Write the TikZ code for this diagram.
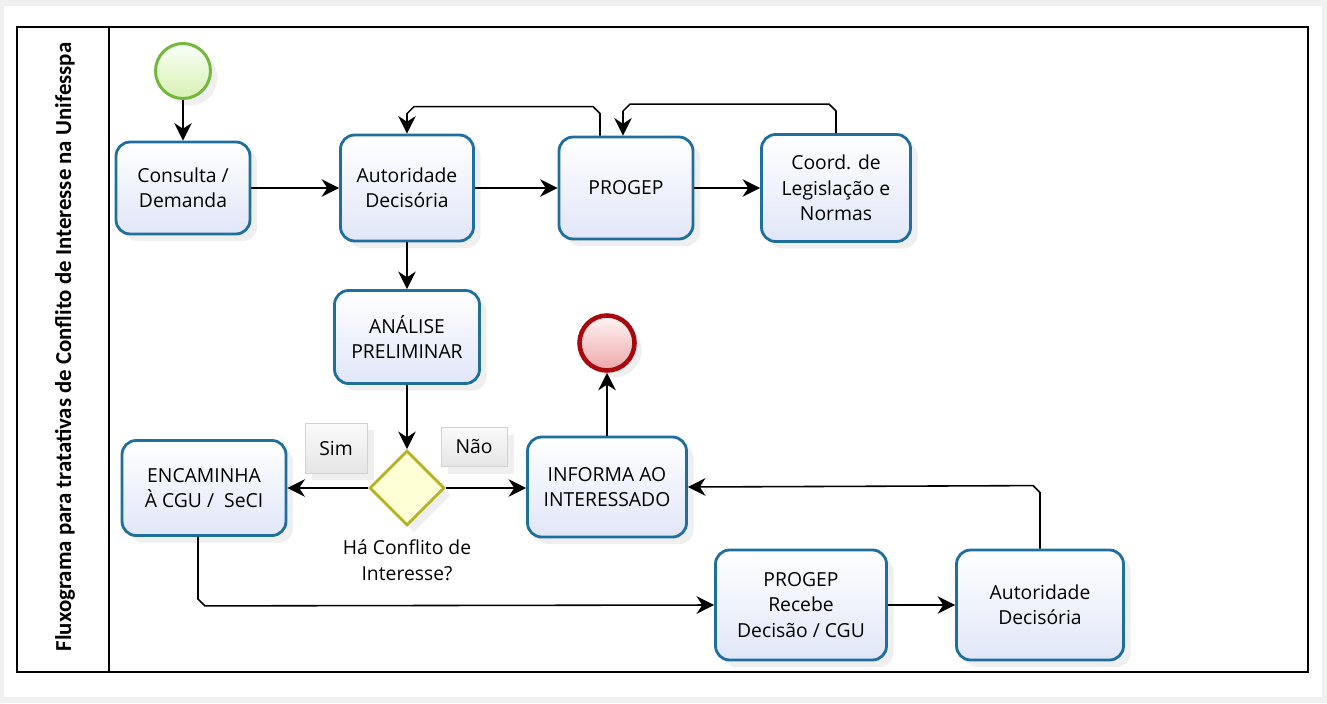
\documentclass[tikz,border=0pt]{standalone}
\usepackage{fontspec}
\setmainfont{Open Sans}
\newfontfamily\titlefont{Carlito}
\usepackage{tikz}
\usetikzlibrary{
	arrows.meta,
	positioning,
	shapes.geometric,
	shadows
}

\definecolor{taskline}{HTML}{1E6E9E}
\definecolor{taskfill}{HTML}{E1E6F8}
\definecolor{startline}{HTML}{72B83A}
\definecolor{startfill}{HTML}{D9F0B2}
\definecolor{endline}{HTML}{A8090F}
\definecolor{endfill}{HTML}{EDA6A8}
\definecolor{gateline}{HTML}{B4B424}
\definecolor{gatefill}{HTML}{FFFFD6}

\tikzset{
	softshadow/.style={drop shadow={opacity=0.12, shadow xshift=4pt, shadow yshift=-4pt}},
	task/.style={rectangle, rounded corners=8pt, draw=taskline, line width=1.6pt,
		top color=white, bottom color=taskfill, align=center, inner sep=2pt,
		font=\fontsize{11}{14.5}\selectfont, softshadow},
	flow/.style={-{Stealth[length=10pt, width=10pt]}, line width=0.9pt},
	tag/.style={rectangle, draw=gray!35, top color=gray!4, bottom color=gray!20,
		font=\fontsize{11}{14.5}\selectfont, softshadow}
}

\begin{document}
\begin{tikzpicture}[x=0.02cm, y=-0.02cm]
	% fundo e moldura
	\fill[gray!12] (0,0) rectangle (1327,703);
	\fill[white] (4,6) rectangle (1322,697);
	\draw[line width=0.9pt] (17,27) rectangle (1308,672);
	\draw[line width=0.9pt] (109,27) -- (109,672);
	\node[rotate=90, font=\titlefont\bfseries\fontsize{13}{15}\selectfont] (titulo) at (65,347)
		{Fluxograma para tratativas de Conflito de Interesse na Unifesspa};

	% eventos
	\node[circle, minimum size=1.1cm, draw=startline, line width=1.7pt,
		top color=green!3, bottom color=startfill, softshadow] (inicio) at (183,71) {};
	\node[circle, minimum size=1.1cm, draw=endline, line width=2.6pt,
		top color=red!4, bottom color=endfill, softshadow] (fim) at (607,343) {};

	% tarefas
	\node[task, minimum width=2.68cm, minimum height=1.84cm] (consulta) at (183,188) {Consulta /\\Demanda};
	\node[task, minimum width=2.66cm, minimum height=2.12cm] (autA) at (407,188) {Autoridade\\Decisória};
	\node[task, minimum width=2.68cm, minimum height=2.04cm] (progep) at (626,188) {PROGEP};
	\node[task, minimum width=2.98cm, minimum height=2.14cm] (coord) at (836,188) {Coord. de\\Legislação e\\Normas};
	\node[task, minimum width=2.90cm, minimum height=1.86cm] (analise) at (407,337) {ANÁLISE\\PRELIMINAR};
	\node[task, minimum width=3.28cm, minimum height=1.90cm] (encaminha) at (204,488) {ENCAMINHA\\À CGU /~ SeCI};
	\node[task, minimum width=3.18cm, minimum height=2.00cm] (informa) at (607,487) {INFORMA AO\\INTERESSADO};
	\node[task, minimum width=3.42cm, minimum height=2.20cm] (recebe) at (801,605) {PROGEP\\Recebe\\Decisão / CGU};
	\node[task, minimum width=3.34cm, minimum height=2.20cm] (autB) at (1040,605) {Autoridade\\Decisória};

	% decisao
	\node[diamond, aspect=1, minimum size=1.5cm, inner sep=0pt, draw=gateline, line width=1.6pt,
		fill=gatefill, softshadow] (conflito) at (407,488) {};
	\node[below=4pt of conflito, align=center, font=\fontsize{11}{14.5}\selectfont] (pergunta)
		{Há Conflito de\\Interesse?};
	\node[tag, minimum width=1.24cm, minimum height=1.0cm] (sim) at (336,448) {Sim};
	\node[tag, minimum width=1.32cm, minimum height=0.78cm] (nao) at (474,447) {Não};

	% fluxos
	\draw[flow] (inicio) -- (consulta);
	\draw[flow] (consulta) -- (autA);
	\draw[flow] (autA) -- (progep);
	\draw[flow] (progep) -- (coord);
	\draw[flow] ([xshift=-0.52cm]progep.north) -- ++(0,-22) -- ++(-7,-7) -- ++(-179,0) -- ++(-7,7) -- (autA.north);
	\draw[flow] (coord.north) -- ++(0,-22) -- ++(-7,-7) -- ++(-199,0) -- ++(-7,7) -- ([xshift=-0.06cm]progep.north);
	\draw[flow] (autA) -- (analise);
	\draw[flow] (analise) -- (conflito);
	\draw[flow] (conflito) -- (encaminha);
	\draw[flow] (conflito.east) -- (informa.west |- conflito.east);
	\draw[flow] (informa) -- (fim);
	\draw[flow] ([xshift=-0.12cm]encaminha.south) -- ++(0,62) -- ++(7,7) -- (recebe.west);
	\draw[flow] (recebe) -- (autB);
	\draw[flow] (autB.north) -- ++(0,-56) -- ++(-7,-7) -- (informa.east);
\end{tikzpicture}
\end{document}
